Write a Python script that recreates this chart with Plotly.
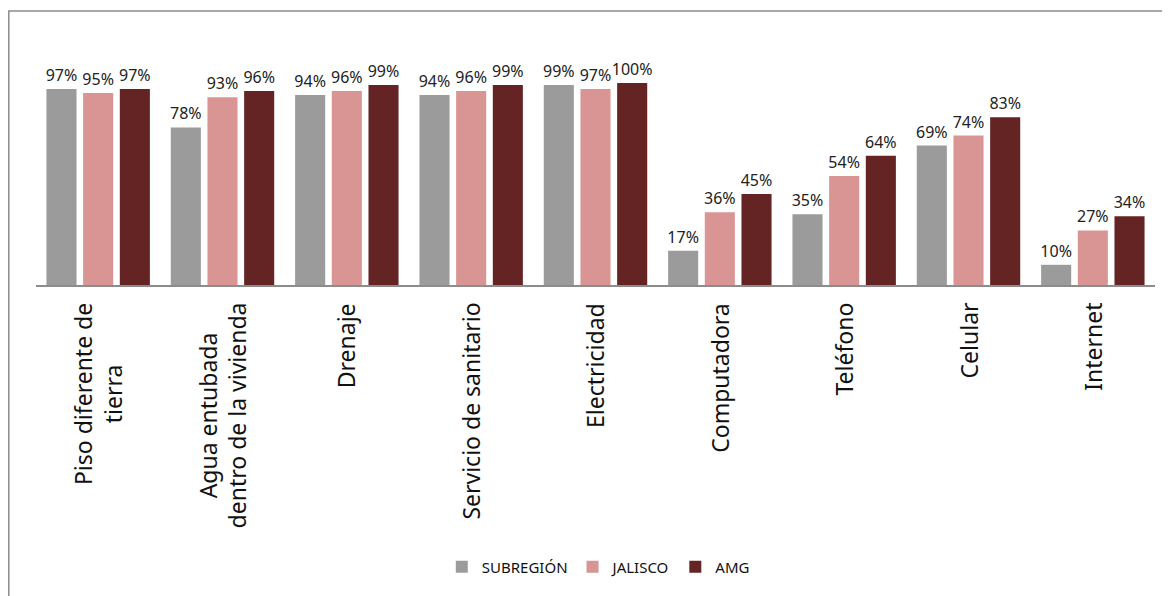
import plotly.graph_objects as go

categories = ["Piso diferente de<br>tierra", "Agua entubada<br>dentro de la vivienda", "Drenaje",
              "Servicio de sanitario", "Electricidad", "Computadora", "Teléfono", "Celular", "Internet"]
subregion = [0.97, 0.78, 0.94, 0.94, 0.99, 0.17, 0.35, 0.69, 0.10]
jalisco = [0.95, 0.93, 0.96, 0.96, 0.97, 0.36, 0.54, 0.74, 0.27]
amg = [0.97, 0.96, 0.99, 0.99, 1.00, 0.45, 0.64, 0.83, 0.34]
series_names = ["SUBREGIÓN", "JALISCO", "AMG"]
colors = ["#9B9B9B", "#D99594", "#632423"]

FONT = "Noto Sans"
fig = go.Figure()
for name, vals, col in zip(series_names, [subregion, jalisco, amg], colors):
    fig.add_trace(go.Bar(
        x=list(range(len(categories))), y=vals, name=name, marker=dict(color=col, line=dict(width=0)),
        text=[f"{round(v*100)}%" for v in vals], textposition="outside",
        textfont=dict(family=FONT, size=16, color="#222"), constraintext="none", cliponaxis=False,
    ))

for i, c in enumerate(categories):
    fig.add_annotation(x=i, xref="x", y=-0.065, yref="paper", text=c, textangle=-90,
                       xanchor="center", yanchor="top", showarrow=False, align="center",
                       font=dict(family=FONT, size=23, color="#111"))

fig.add_shape(type="rect", xref="paper", yref="paper", x0=-0.0243, x1=1.2, y0=-1.5, y1=1.118,
              line=dict(color="#8c8c8c", width=1.5), fillcolor="rgba(0,0,0,0)", layer="below")

fig.update_layout(
    width=1162, height=588, margin=dict(l=28, r=15, t=32, b=311, autoexpand=False),
    paper_bgcolor="white", plot_bgcolor="white",
    barmode="group", bargap=0.115, bargroupgap=0.18,
    showlegend=True,
    legend=dict(orientation="h", xref="container", yref="container", x=0.508, xanchor="center",
                y=0.0493, yanchor="middle",
                font=dict(family=FONT, size=15, color="#111"), itemwidth=30, traceorder="normal"),
    xaxis=dict(showticklabels=False, showline=True, linecolor="#8c8c8c", linewidth=2, ticks="",
               showgrid=False, zeroline=False, range=[-0.5, len(categories)-0.5]),
    yaxis=dict(visible=False, range=[0, 1.2129], showgrid=False, zeroline=False),
    font=dict(family=FONT),
)
fig.write_html("out.html")
